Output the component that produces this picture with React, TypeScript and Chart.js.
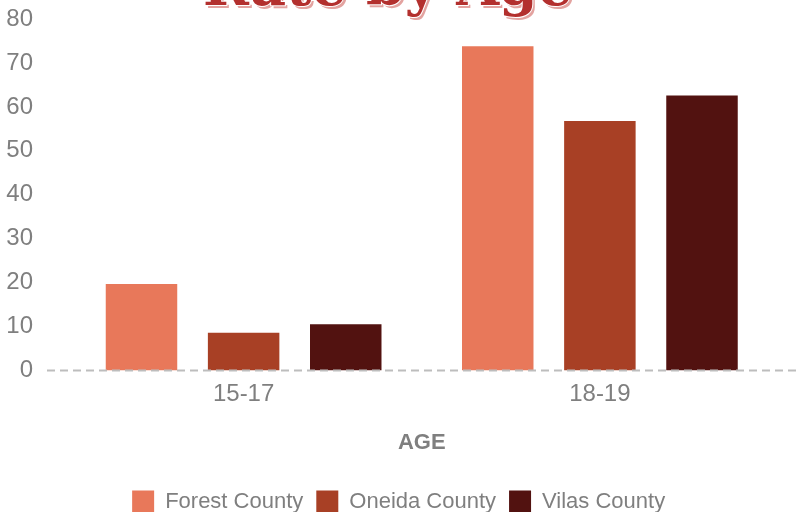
import React, { useEffect, useRef } from "react";
import { Chart, registerables } from "chart.js";

Chart.register(...registerables);

const categories = ["15-17", "18-19"];
const seriesNames = ["Forest County", "Oneida County", "Vilas County"];
const forestValues = [19.7, 73.8];
const oneidaValues = [8.6, 56.8];
const vilasValues = [10.5, 62.6];
const yTicks = [0, 10, 20, 30, 40, 50, 60, 70, 80];
const chartTitle = "Rate by Age";
const xAxisTitle = "AGE";

const colors = ["#E8785A", "#A84025", "#521210"];
const FONT = "'Liberation Sans', Arial, sans-serif";

const zeroLinePlugin = {
  id: "zeroLine",
  afterDatasetsDraw(chart: any) {
    const { ctx } = chart;
    const y = chart.scales.y.getPixelForValue(0);
    ctx.save();
    ctx.strokeStyle = "#BDBDBD";
    ctx.lineWidth = 2;
    ctx.setLineDash([8, 5]);
    ctx.beginPath();
    ctx.moveTo(47, y);
    ctx.lineTo(801, y);
    ctx.stroke();
    ctx.restore();
  },
};

const legendShiftPlugin = {
  id: "legendShift",
  afterLayout(chart: any) {
    if (chart.legend) {
      chart.legend.left += 8;
      chart.legend.right += 8;
    }
  },
};

const titlePlugin = {
  id: "cutTitle",
  afterDraw(chart: any) {
    const { ctx } = chart;
    ctx.save();
    let size = 52;
    ctx.font = `bold ${size}px 'DejaVu Serif', serif`;
    const w = ctx.measureText(chartTitle).width;
    size = (size * 370) / w;
    ctx.font = `bold ${size}px 'DejaVu Serif', serif`;
    ctx.textAlign = "center";
    ctx.textBaseline = "alphabetic";
    const cx = 388;
    const by = 5;
    ctx.fillStyle = "#E3A3A0";
    ctx.fillText(chartTitle, cx + 2.5, by + 3);
    ctx.lineWidth = 2;
    ctx.strokeStyle = "#FFFFFF";
    ctx.strokeText(chartTitle, cx, by);
    ctx.fillStyle = "#B3302E";
    ctx.fillText(chartTitle, cx, by);
    ctx.restore();
  },
};

export default function App() {
  const ref = useRef<HTMLCanvasElement | null>(null);

  useEffect(() => {
    document.body.style.margin = "0";
    document.body.style.overflow = "hidden";
    const canvas = ref.current;
    if (!canvas) return;
    const chart = new Chart(canvas, {
      type: "bar",
      data: {
        labels: categories,
        datasets: [forestValues, oneidaValues, vilasValues].map((vals, i) => ({
          label: seriesNames[i],
          data: vals,
          backgroundColor: colors[i],
          borderWidth: 0,
          barPercentage: 0.7,
          categoryPercentage: 0.86,
        })),
      },
      options: {
        responsive: false,
        animation: false,
        devicePixelRatio: 1,
        layout: { padding: { left: 3.3, right: 23, top: 19, bottom: -10.5 } },
        plugins: {
          title: { display: false },
          tooltip: { enabled: false },
          legend: {
            position: "bottom",
            labels: {
              boxWidth: 22,
              boxHeight: 22,
              padding: 13,
              color: "#7F7F7F",
              font: { family: FONT, size: 22 },
            },
          },
        },
        scales: {
          x: {
            grid: { display: false, drawTicks: true, tickLength: 7 },
            border: { display: false },
            ticks: { color: "#7F7F7F", font: { family: FONT, size: 24 }, padding: 2 },
            title: {
              display: true,
              text: xAxisTitle,
              color: "#7F7F7F",
              font: { family: FONT, size: 22, weight: "bold" },
              padding: { top: 19.5, bottom: 21.3 },
            },
          },
          y: {
            min: 0,
            max: 80,
            afterBuildTicks(scale: any) {
              scale.ticks = yTicks.map((v) => ({ value: v }));
            },
            grid: { display: false, drawTicks: true, tickLength: 29.5 },
            border: { display: false },
            ticks: { color: "#7F7F7F", font: { family: FONT, size: 24 }, padding: 3 },
          },
        },
      },
      plugins: [zeroLinePlugin, titlePlugin, legendShiftPlugin],
    });
    return () => chart.destroy();
  }, []);

  return (
    <canvas
      ref={ref}
      width={801}
      height={512}
      style={{ display: "block", width: "801px", height: "512px" }}
    />
  );
}
